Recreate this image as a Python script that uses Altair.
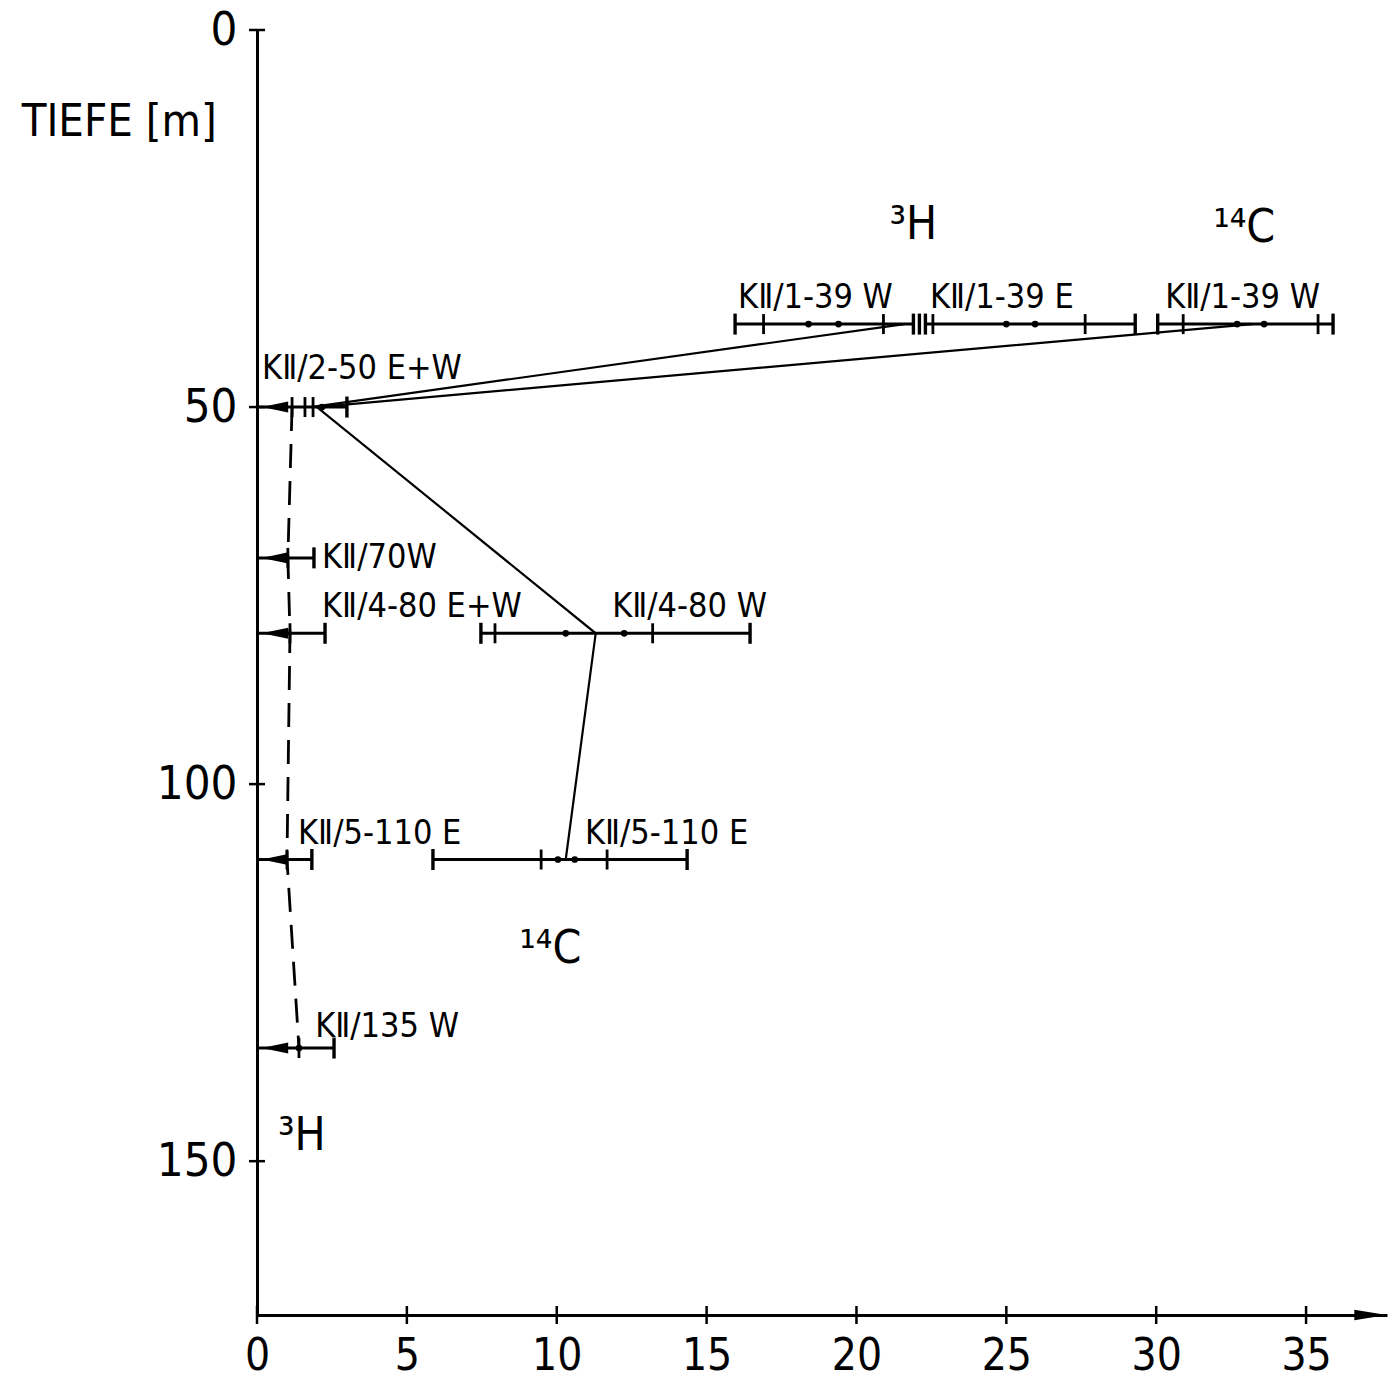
import altair as alt
import pandas as pd

FONT = "DejaVu Sans Condensed, Liberation Sans Narrow, DejaVu Sans, sans-serif"

# ---- horizontal error bars (depth in m, x range) ----
bar_depth = [39, 39, 39, 50, 70, 80, 80, 110, 110, 135]
bar_lo = [15.95, 22.3, 30.05, 0.0, 0.0, 0.0, 7.47, 0.0, 5.87, 0.0]
bar_hi = [21.9, 29.3, 35.9, 3.0, 1.9, 2.27, 16.45, 1.83, 14.35, 2.57]

# end caps
cap_depth = [39, 39, 39, 39, 39, 39, 39, 50, 70, 80, 80, 80, 110, 110, 110, 135]
cap_x = [15.95, 21.9, 22.1, 22.3, 29.3, 30.05, 35.9, 3.0, 1.9, 2.27, 7.47, 16.45, 1.83, 5.87, 14.35, 2.57]

# inner ticks
tick_depth = [39, 39, 39, 39, 39, 39, 50, 50, 50, 70, 80, 80, 80, 110, 110, 110, 135]
tick_x = [16.9, 20.9, 22.55, 27.63, 30.9, 35.4, 1.17, 1.6, 1.87, 1.03, 1.1, 7.94, 13.2, 1.0, 9.48, 11.68, 1.4]

# dots
dot_depth = [39, 39, 39, 39, 39, 39, 50, 80, 80, 110, 110, 135]
dot_x = [18.4, 19.4, 25.0, 25.96, 32.7, 33.6, 2.17, 10.3, 12.25, 10.04, 10.6, 1.4]

# upper-limit arrows (pointing to 0)
arrow_depth = [50, 70, 80, 110, 135]
arrow_x = [0.6, 0.6, 0.6, 0.6, 0.6]

# connecting profiles
h3_line_x = [21.6, 1.8]
h3_line_depth = [39, 50]
c14_line_x = [33.2, 2.0, 11.3, 10.3]
c14_line_depth = [39, 50, 80, 110]
dash_x = [1.17, 1.03, 1.1, 1.0, 1.4]
dash_depth = [50, 70, 80, 110, 135]

# sample labels
lab_text = ["KⅡ/1-39 W", "KⅡ/1-39 E", "KⅡ/1-39 W", "KⅡ/2-50 E+W", "KⅡ/70W",
            "KⅡ/4-80 E+W", "KⅡ/4-80 W", "KⅡ/5-110 E", "KⅡ/5-110 E", "KⅡ/135 W"]
lab_x = [16.05, 22.45, 30.3, 0.17, 2.17, 2.17, 11.85, 1.37, 10.94, 1.94]
lab_y = [35.5, 35.5, 35.5, 45.0, 70.0, 76.5, 76.5, 106.6, 106.6, 132.2]

# isotope labels
iso_text = ["³H", "¹⁴C", "¹⁴C", "³H"]
iso_x = [21.1, 31.9, 8.75, 0.7]
iso_y = [25.9, 26.3, 121.8, 146.6]

# axes
x_ticks = [0, 5, 10, 15, 20, 25, 30, 35]
y_ticks = [0, 50, 100, 150]
X_MAX = 37.7
Y_MAX = 170.4

xs = alt.Scale(domain=[0, X_MAX], nice=False, zero=False)
ys = alt.Scale(domain=[0, Y_MAX], nice=False, zero=False, reverse=True)

xax = alt.Axis(values=x_ticks, labelFontSize=44, labelFont=FONT, ticks=False,
               domainWidth=3, domainColor="black", labelColor="black",
               labelPadding=19, grid=False, title=None, labelFlush=False)
yax = alt.Axis(values=y_ticks, labelFontSize=47, labelFont=FONT, ticks=False,
               domainWidth=3, domainColor="black", labelColor="black",
               labelPadding=20, grid=False, title=None, labelFlush=False)

bars = pd.DataFrame({"d": bar_depth, "lo": bar_lo, "hi": bar_hi})
caps = pd.DataFrame({"d": cap_depth, "x": cap_x})
ticks = pd.DataFrame({"d": tick_depth, "x": tick_x})
dots = pd.DataFrame({"d": dot_depth, "x": dot_x})
arrows = pd.DataFrame({"d": arrow_depth, "x": arrow_x})
h3l = pd.DataFrame({"d": h3_line_depth, "x": h3_line_x, "o": range(len(h3_line_x))})
c14l = pd.DataFrame({"d": c14_line_depth, "x": c14_line_x, "o": range(len(c14_line_x))})
dashl = pd.DataFrame({"d": dash_depth, "x": dash_x, "o": range(len(dash_x))})
labs = pd.DataFrame({"t": lab_text, "x": lab_x, "y": lab_y})
isos = pd.DataFrame({"t": iso_text, "x": iso_x, "y": iso_y})
xt = pd.DataFrame({"x": x_ticks, "d": [Y_MAX] * len(x_ticks)})
yt = pd.DataFrame({"x": [0] * len(y_ticks), "d": y_ticks})

base_axes = alt.Chart(xt).mark_point(opacity=0).encode(
    x=alt.X("x:Q", scale=xs, axis=xax),
    y=alt.Y("d:Q", scale=ys, axis=yax),
)

bar_layer = alt.Chart(bars).mark_rule(color="black", strokeWidth=3).encode(
    x=alt.X("lo:Q", scale=xs), x2="hi:Q", y=alt.Y("d:Q", scale=ys))

cap_layer = alt.Chart(caps).mark_tick(orient="vertical", color="black", size=21, thickness=3.4,
                                      opacity=1).encode(
    x=alt.X("x:Q", scale=xs), y=alt.Y("d:Q", scale=ys))

tick_layer = alt.Chart(ticks).mark_tick(orient="vertical", color="black", size=20, thickness=2.8,
                                        opacity=1).encode(
    x=alt.X("x:Q", scale=xs), y=alt.Y("d:Q", scale=ys))

dot_layer = alt.Chart(dots).mark_point(filled=True, color="black", size=45, opacity=1).encode(
    x=alt.X("x:Q", scale=xs), y=alt.Y("d:Q", scale=ys))

arrow_layer = alt.Chart(arrows).mark_point(
    shape="M -1 0 L 1 -0.42 L 1 0.42 Z", filled=True, color="black", size=700, opacity=1
).encode(x=alt.X("x:Q", scale=xs), y=alt.Y("d:Q", scale=ys))

h3_layer = alt.Chart(h3l).mark_line(color="black", strokeWidth=2.2).encode(
    x=alt.X("x:Q", scale=xs), y=alt.Y("d:Q", scale=ys), order="o:Q")
c14_layer = alt.Chart(c14l).mark_line(color="black", strokeWidth=2.2).encode(
    x=alt.X("x:Q", scale=xs), y=alt.Y("d:Q", scale=ys), order="o:Q")
dash_layer = alt.Chart(dashl).mark_line(color="black", strokeWidth=2.8, strokeDash=[24, 13]).encode(
    x=alt.X("x:Q", scale=xs), y=alt.Y("d:Q", scale=ys), order="o:Q")

lab_layer = alt.Chart(labs).mark_text(align="left", baseline="middle", font=FONT,
                                      fontSize=34, color="black").encode(
    x=alt.X("x:Q", scale=xs), y=alt.Y("y:Q", scale=ys), text="t:N")

iso_layer = alt.Chart(isos).mark_text(align="left", baseline="middle", font=FONT,
                                      fontSize=46, color="black").encode(
    x=alt.X("x:Q", scale=xs), y=alt.Y("y:Q", scale=ys), text="t:N")

title_layer = alt.Chart(pd.DataFrame({"t": ["TIEFE [m]"], "x": [-7.85], "y": [12.2]})).mark_text(
    align="left", baseline="middle", font=FONT, fontSize=45, color="black").encode(
    x=alt.X("x:Q", scale=xs), y=alt.Y("y:Q", scale=ys), text="t:N")

xtick_layer = alt.Chart(xt).mark_tick(orient="vertical", color="black", size=18, thickness=2.5,
                                      opacity=1).encode(
    x=alt.X("x:Q", scale=xs), y=alt.Y("d:Q", scale=ys))
ytick_layer = alt.Chart(yt).mark_tick(orient="horizontal", color="black", size=16, thickness=2.5,
                                      opacity=1).encode(
    x=alt.X("x:Q", scale=xs), y=alt.Y("d:Q", scale=ys))

axis_arrow = alt.Chart(pd.DataFrame({"x": [X_MAX - 0.55], "d": [Y_MAX]})).mark_point(
    shape="M 1 0 L -1 -0.32 L -1 0.32 Z", filled=True, color="black", size=1050, opacity=1
).encode(x=alt.X("x:Q", scale=xs), y=alt.Y("d:Q", scale=ys))

chart = alt.layer(
    base_axes, bar_layer, h3_layer, c14_layer, dash_layer, cap_layer, tick_layer, dot_layer,
    arrow_layer, lab_layer, iso_layer, title_layer, xtick_layer, ytick_layer, axis_arrow
).properties(
    width=1130, height=1285,
    autosize=alt.AutoSizeParams(type="none"),
    padding={"left": 257, "top": 30, "right": 2, "bottom": 66},
    background="white",
).configure_view(stroke=None)

chart.save("out.html", embed_options={"renderer": "svg", "actions": False})
